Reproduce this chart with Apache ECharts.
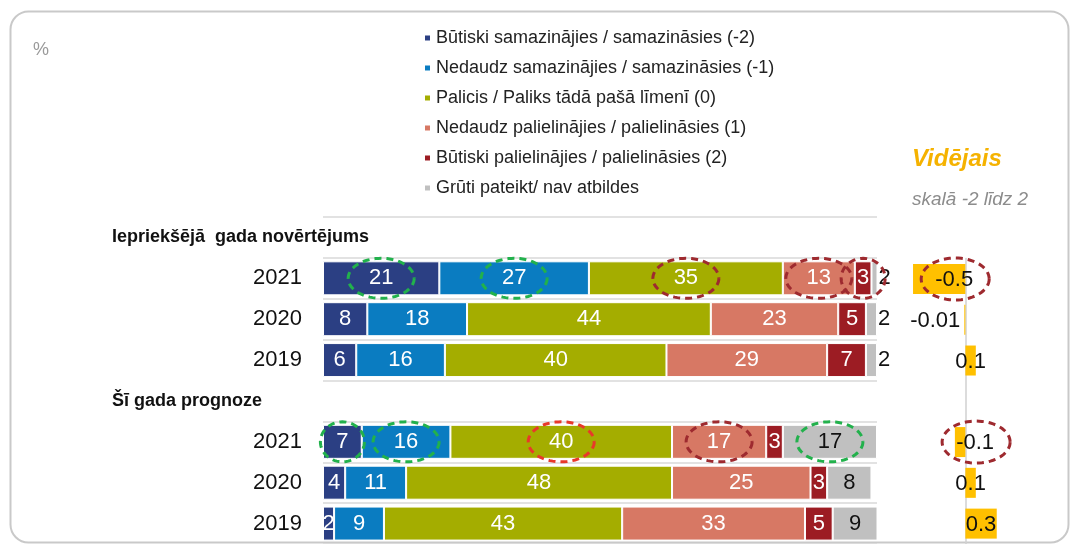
<!DOCTYPE html>
<html>
<head>
<meta charset="utf-8">
<script src="https://cdn.jsdelivr.net/npm/echarts@6/dist/echarts.min.js"></script>
<style>
  html, body { margin: 0; padding: 0; background: #fff; }
  #chart { width: 1070px; height: 544px; }
</style>
</head>
<body>
<div id="chart"></div>
<script>
// rindas: divas virsraksta rindas + gadi
const rows = ['Iepriekšējā  gada novērtējums', '2021', '2020', '2019', 'Šī gada prognoze', '2021', '2020', '2019'];
const headerRows = [0, 4];

const names = [
  'Būtiski samazinājies / samazināsies (-2)',
  'Nedaudz samazinājies / samazināsies (-1)',
  'Palicis / Paliks tādā pašā līmenī (0)',
  'Nedaudz palielinājies / palielināsies (1)',
  'Būtiski palielinājies / palielināsies (2)',
  'Grūti pateikt/ nav atbildes'
];
const colors = ['#2b3f83', '#0a7cc1', '#a4ad00', '#d77864', '#9c1c23', '#c0c0c0'];

const sharplyDown = [null, 21, 8, 6, null, 7, 4, 2];
const slightlyDown = [null, 27, 18, 16, null, 16, 11, 9];
const same = [null, 35, 44, 40, null, 40, 48, 43];
const slightlyUp = [null, 13, 23, 29, null, 17, 25, 33];
const sharplyUp = [null, 3, 5, 7, null, 3, 3, 5];
const hardToSay = [null, 2, 2, 2, null, 17, 8, 9];
const average = [null, -0.5, -0.01, 0.1, null, -0.1, 0.1, 0.3];

// pārtrauktie apļi ap dažām vērtībām: [rinda, sērija, krāsa]
const ringsBars = [
  [1, 0, 'green'], [1, 1, 'green'], [1, 2, 'darkred'], [1, 3, 'darkred'], [1, 4, 'darkred'],
  [5, 0, 'green'], [5, 1, 'green'], [5, 2, 'red'], [5, 3, 'darkred'], [5, 5, 'green']
];
const ringsAvg = { 1: 'darkred', 5: 'darkred' };
const ringColor = { green: '#22b14c', darkred: '#9e2a2f', red: '#e8392a' };

const seriesData = [sharplyDown, slightlyDown, same, slightlyUp, sharplyUp, hardToSay];
const font = "'Liberation Sans', Arial, sans-serif";

function ellipse(cx, cy, rx, ry) {
  const pts = [];
  for (let i = 0; i <= 72; i++) {
    const a = i / 72 * Math.PI * 2;
    pts.push([cx + rx * Math.cos(a), cy + ry * Math.sin(a)]);
  }
  return pts;
}
function ringStyle(c) {
  return { fill: null, stroke: ringColor[c], lineWidth: 3, lineDash: [7, 5] };
}

const chart = echarts.init(document.getElementById('chart'), null, { renderer: 'canvas' });

const barSeries = names.map((name, s) => ({
  name: name,
  type: 'bar',
  stack: 'total',
  xAxisIndex: 0,
  yAxisIndex: 0,
  barWidth: 34,
  itemStyle: { color: colors[s], borderColor: '#fff', borderWidth: 1 },
  label: {
    show: true,
    position: 'inside',
    fontSize: 22,
    fontFamily: font,
    color: s === 5 ? '#111' : '#fff'
  },
  data: seriesData[s].map(v => {
    if (v == null) return null;
    if (s === 5 && v < 5) return { value: v, label: { position: 'right', distance: 1 } };
    return v;
  })
}));

// apļu centri no uzkrātajām vērtībām
const ringBarData = ringsBars.map(r => {
  let before = 0;
  for (let i = 0; i < r[1]; i++) before += seriesData[i][r[0]];
  return [before + seriesData[r[1]][r[0]] / 2, r[0]];
});

// vidējā vērtības rindas otrajā režģī (bez pirmā virsraksta)
const avgRows = [];
average.forEach((v, i) => { if (v != null) avgRows.push([v, i - 1, i]); });

const option = {
  animation: false,
  backgroundColor: '#fff',
  textStyle: { fontFamily: font },
  legend: {
    data: names,
    orient: 'vertical',
    left: 418,
    top: 24,
    itemWidth: 7,
    itemHeight: 7,
    itemGap: 12,
    icon: 'rect',
    textStyle: { fontSize: 18, color: '#222', fontFamily: font }
  },
  grid: [
    { left: 323, width: 554, top: 217, height: 333 },
    { left: 860.7, width: 212, top: 258.6, height: 291.4 }
  ],
  xAxis: [
    { type: 'value', gridIndex: 0, min: 0, max: 100, show: false },
    { type: 'value', gridIndex: 1, min: -1, max: 1, show: false }
  ],
  yAxis: [
    {
      type: 'category',
      gridIndex: 0,
      inverse: true,
      data: rows,
      axisLine: { show: false },
      axisTick: { show: false },
      splitLine: { show: true, lineStyle: { color: '#d9d9d9', width: 1.5 } },
      axisLabel: {
        margin: 21,
        formatter: (v, i) => headerRows.includes(i) ? '{h|' + v + '}' : '{y|' + v + '}',
        rich: {
          h: { fontSize: 18, fontWeight: 'bold', color: '#111', width: 190, align: 'left', fontFamily: font },
          y: { fontSize: 22, color: '#111', fontFamily: font }
        }
      }
    },
    {
      type: 'category',
      gridIndex: 1,
      inverse: true,
      data: rows.slice(1),
      axisLine: { show: true, onZero: true, lineStyle: { color: '#d0d0d0', width: 1.5 } },
      axisTick: { show: false },
      axisLabel: { show: false },
      splitLine: { show: false }
    }
  ],
  graphic: [
    {
      type: 'rect', left: 8, top: 9, z: -10,
      shape: { width: 1058, height: 531, r: 18 },
      style: { fill: null, stroke: '#c9c9c9', lineWidth: 2 }
    },
    { type: 'text', left: 33, top: 41, style: { text: '%', fill: '#9a9a9a', font: '18px ' + font } },
    { type: 'text', left: 912, top: 147, style: { text: 'Vidējais', fill: '#f5b200', font: 'italic bold 24px ' + font } },
    { type: 'text', left: 912, top: 190, style: { text: 'skalā -2 līdz 2', fill: '#8c8c8c', font: 'italic 19px ' + font } }
  ],
  series: barSeries.concat([
    {
      name: 'Vidējais',
      type: 'bar',
      xAxisIndex: 1,
      yAxisIndex: 1,
      barWidth: 30,
      itemStyle: { color: '#ffc000' },
      data: average.slice(1)
    },
    {
      type: 'custom',
      xAxisIndex: 0,
      yAxisIndex: 0,
      z: 10,
      clip: false,
      silent: true,
      data: ringBarData,
      renderItem: (params, api) => {
        const r = ringsBars[params.dataIndex];
        const c = api.coord([api.value(0), api.value(1)]);
        const len = String(seriesData[r[1]][r[0]]).length;
        const rx = len > 1 ? 33 : 22;
        return { type: 'polyline', shape: { points: ellipse(c[0], c[1], rx, 20) }, style: ringStyle(r[2]) };
      }
    },
    {
      // vidējā vērtības uzraksti + apļi
      type: 'custom',
      xAxisIndex: 1,
      yAxisIndex: 1,
      z: 10,
      clip: false,
      silent: true,
      data: avgRows,
      renderItem: (params, api) => {
        const v = api.value(0);
        const row = avgRows[params.dataIndex][2];
        let x, align;
        if (Math.abs(v) < 0.05) {
          x = api.coord([v, api.value(1)])[0] - 4; align = 'right';
        } else {
          x = api.coord([v / 2, api.value(1)])[0] + (v < 0 ? 15 : 0); align = 'center';
        }
        const y = api.coord([0, api.value(1)])[1];
        const children = [{
          type: 'text',
          style: { text: String(v), x: x, y: y + 1, align: align, verticalAlign: 'middle', fill: '#111', font: '22px ' + font }
        }];
        if (ringsAvg[row]) {
          children.push({ type: 'polyline', shape: { points: ellipse(x + 1, y, 34, 21) }, style: ringStyle(ringsAvg[row]) });
        }
        return { type: 'group', children: children };
      }
    }
  ])
};

chart.setOption(option);
</script>
</body>
</html>
